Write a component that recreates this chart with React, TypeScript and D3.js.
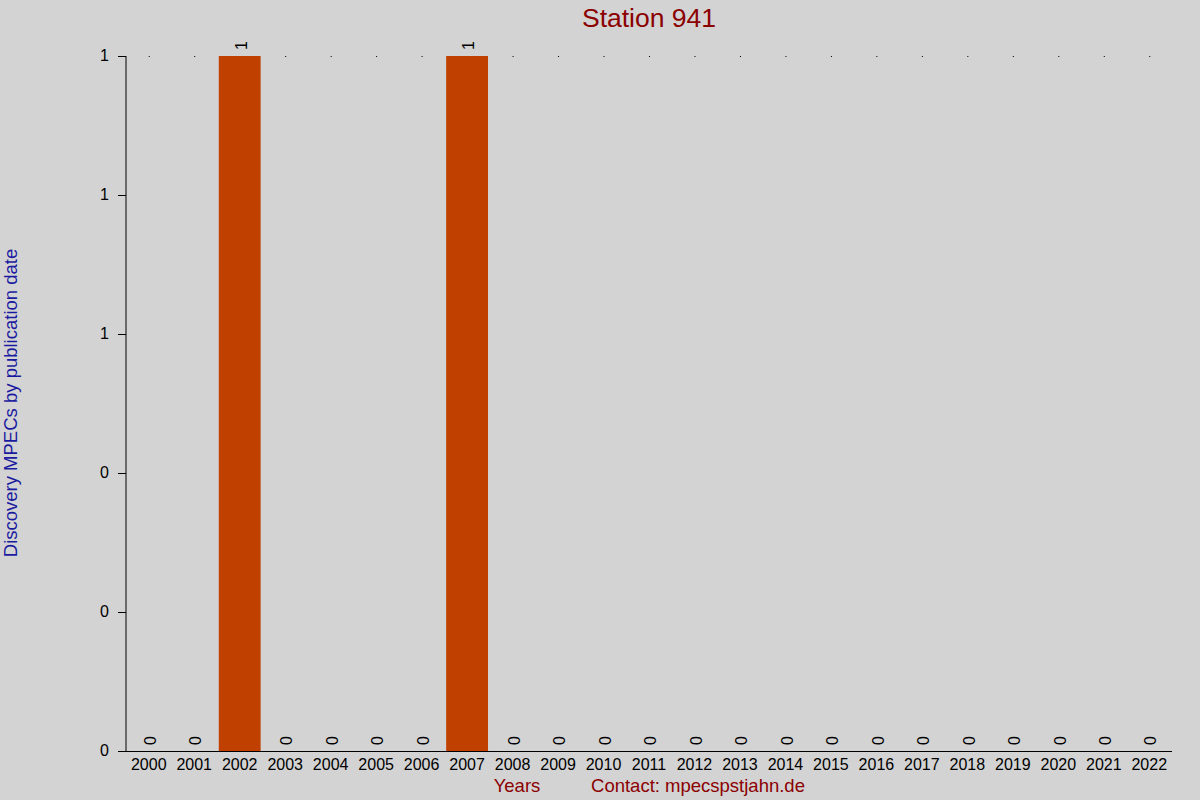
import React from "react";
import * as d3 from "d3";

const years = ["2000","2001","2002","2003","2004","2005","2006","2007","2008","2009","2010","2011","2012","2013","2014","2015","2016","2017","2018","2019","2020","2021","2022"];
const counts = [0,0,1,0,0,0,0,1,0,0,0,0,0,0,0,0,0,0,0,0,0,0,0];
const yTicks = [0, 0.2, 0.4, 0.6, 0.8, 1];

const W = 1200, H = 800;
const left = 126, right = 1172, top = 56, bottom = 751;
const font = "'Liberation Sans', Arial, sans-serif";

export default function App() {
  const x = d3.scaleBand<string>().domain(years).range([left, right]).paddingInner(0.08).paddingOuter(0.04);
  const y = d3.scaleLinear().domain([0, 1]).range([bottom, top]);
  const fmt = d3.format(".0f");
  return (
    <svg width={W} height={H} style={{ position: "absolute", left: 0, top: 0, background: "#d3d3d3" }} fontFamily={font}>
      <rect x={0} y={0} width={W} height={H} fill="#d3d3d3" />
      <text x={649} y={27} textAnchor="middle" fontSize={26.5} fill="#8b0000">Station 941</text>
      {years.map((yr) => (
        <rect key={"d" + yr} x={(x(yr) as number) + x.bandwidth() / 2} y={y(1)} width={1} height={1} fill="#000" />
      ))}
      {years.map((yr, i) => (
        counts[i] > 0 ? (
          <rect key={"b" + yr} x={x(yr)} y={y(counts[i])} width={x.bandwidth()} height={y(0) - y(counts[i])} fill="#c04000" />
        ) : null
      ))}
      {years.map((yr, i) => {
        const cx = (x(yr) as number) + x.bandwidth() / 2 + 3;
        const cy = y(counts[i]) - 6;
        return (
          <text key={"v" + yr} transform={`translate(${cx},${cy}) rotate(-90)`} textAnchor="start" dominantBaseline="middle" fontSize={16} fill="#000">{counts[i]}</text>
        );
      })}
      <line x1={left} x2={left} y1={top} y2={bottom} stroke="#000" strokeWidth={1} />
      <line x1={118} x2={right} y1={bottom + 0.5} y2={bottom + 0.5} stroke="#000" strokeWidth={1} />
      {yTicks.map((t) => (
        <g key={"t" + t}>
          <line x1={118} x2={left} y1={y(t) + 0.5} y2={y(t) + 0.5} stroke="#000" />
          <text x={109} y={y(t) + 1} textAnchor="end" dominantBaseline="middle" fontSize={16} fill="#000">{fmt(t)}</text>
        </g>
      ))}
      {years.map((yr) => (
        <text key={"x" + yr} x={(x(yr) as number) + x.bandwidth() / 2} y={770} textAnchor="middle" fontSize={16} fill="#000">{yr}</text>
      ))}
      <text transform={`translate(17,403) rotate(-90)`} textAnchor="middle" fontSize={18.5} fill="#1a1aa0">Discovery MPECs by publication date</text>
      <text x={517} y={792} textAnchor="middle" fontSize={18.5} fill="#8b0000">Years</text>
      <text x={698} y={792} textAnchor="middle" fontSize={18.5} fill="#8b0000">Contact: mpecspstjahn.de</text>
    </svg>
  );
}
